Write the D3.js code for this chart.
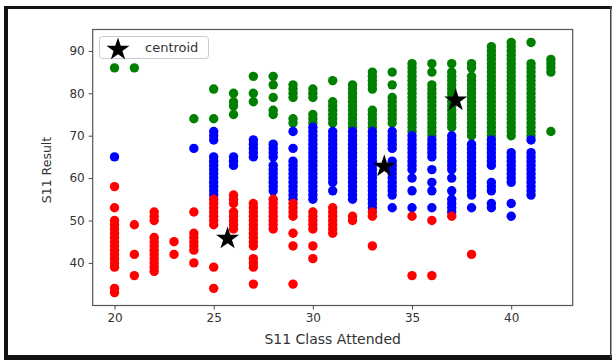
<!DOCTYPE html>
<html>

<head>
    <meta charset="utf-8">
    <script src="https://d3js.org/d3.v7.min.js"></script>
    <title>S11 kmeans</title>
    <style>
        body {
            margin: 0;
            background: white;
        }
        svg text {
            font-family: "DejaVu Sans", sans-serif;
            fill: #333;
        }
    </style>
</head>

<body>
    <svg id="chart"></svg>

    <script>
        // 每一列: [S11 Class Attended, [S11 Result ...]]
        var greenPts = [
            [20, [86]], [21, [86]], [24, [74]], [25, [81, 74]],
            [26, [80, 78, 77, 75]], [27, [84, 80, 78]], [28, [84, 82, 79, 76, 75]],
            [29, [82, 81, 80, 79, 74, 73]], [30, [81, 80, 79, 75, 74, 73]],
            [31, [83, 78, 77, 76, 75, 74, 73]],
            [32, [82, 81, 80, 79, 78, 77, 76, 75, 74, 73, 72]],
            [33, [85, 84, 83, 82, 81, 76, 75, 74, 73, 72]],
            [34, [85, 82, 79, 78, 77, 76, 75, 74, 73]],
            [35, [87, 86, 85, 84, 83, 82, 81, 80, 79, 78, 77, 76, 75, 74, 73, 72, 71]],
            [36, [87, 85, 82, 81, 80, 79, 78, 77, 76, 75, 74, 73, 72, 71, 70]],
            [37, [87, 85, 84, 83, 82, 81, 80, 79, 78, 77, 76, 75, 74, 73, 72]],
            [38, [87, 86, 84, 83, 82, 81, 80, 79, 78, 77, 76, 75, 74, 73, 72, 71, 70]],
            [39, [91, 90, 89, 88, 87, 86, 85, 84, 83, 82, 81, 80, 79, 78, 77, 76, 75, 74, 73, 72, 71, 70]],
            [40, [92, 91, 90, 89, 88, 87, 86, 85, 84, 83, 82, 81, 80, 79, 78, 77, 76, 75, 74, 73, 72, 71, 70]],
            [41, [92, 87, 86, 85, 84, 83, 82, 81, 80, 79, 78, 77, 76, 75, 74, 73, 72, 71, 70]],
            [42, [88, 87, 86, 85, 71]]
        ]
        var bluePts = [
            [20, [65]], [24, [67]],
            [25, [71, 70, 69, 65, 64, 63, 62, 61, 60, 59, 58, 57, 56]],
            [26, [65, 64, 63]], [27, [69, 68, 67, 66, 65]],
            [28, [68, 67, 66, 65, 63, 62, 61, 60, 59, 58, 57]],
            [29, [71, 67, 64, 63, 62, 61, 60, 59, 58, 57, 56, 55]],
            [30, [72, 71, 70, 69, 68, 67, 66, 65, 64, 63, 62, 61, 60, 59, 58, 57, 56, 55]],
            [31, [71, 70, 69, 68, 67, 66, 65, 64, 63, 62, 61, 60, 59, 57]],
            [32, [71, 70, 69, 68, 67, 66, 65, 64, 63, 62, 61, 60, 59, 58, 57, 56, 55]],
            [33, [71, 70, 69, 68, 67, 66, 65, 64, 63, 62, 61, 60, 59, 58, 57, 56, 55, 54, 53]],
            [34, [71, 70, 69, 68, 67, 64, 63, 62, 61, 60, 59, 58, 57, 56, 53]],
            [35, [70, 69, 68, 67, 66, 65, 64, 63, 62, 60, 57, 53]],
            [36, [69, 68, 67, 66, 65, 62, 59, 57, 53]],
            [37, [70, 69, 68, 67, 66, 65, 64, 63, 62, 60, 57, 55, 54, 53, 52]],
            [38, [68, 67, 66, 65, 64, 63, 62, 61, 60, 59, 58, 57, 56, 53]],
            [39, [69, 68, 67, 66, 65, 64, 63, 59, 58, 57, 54, 53]],
            [40, [66, 65, 64, 63, 62, 61, 60, 59, 54, 51]],
            [41, [69, 66, 65, 64, 63, 62, 61, 60, 59, 58, 57, 56]]
        ]
        var redPts = [
            [20, [58, 53, 50, 49, 48, 47, 46, 45, 44, 43, 42, 41, 40, 39, 34, 33]],
            [21, [49, 42, 37]],
            [22, [52, 51, 50, 46, 45, 44, 43, 42, 41, 40, 39, 38]],
            [23, [45, 42]],
            [24, [52, 47, 46, 45, 44, 43, 40]],
            [25, [55, 54, 53, 52, 51, 50, 49, 39, 34]],
            [26, [56, 55, 54, 52, 51, 50, 49, 48]],
            [27, [54, 53, 52, 51, 50, 49, 48, 47, 46, 45, 44, 41, 40, 39, 35]],
            [28, [55, 54, 53, 52, 51, 50, 49, 48]],
            [29, [54, 53, 52, 51, 47, 44, 35]],
            [30, [52, 51, 50, 49, 48, 44, 41]],
            [31, [53, 52, 51, 50, 49, 48, 47]],
            [32, [51, 50]], [33, [52, 51, 44]], [35, [51, 37]], [36, [50, 37]],
            [37, [51]], [38, [42]]
        ]
        var centroids = [[25.7, 46.1], [33.6, 63.1], [37.2, 78.7]]

        var xTicks = [20, 25, 30, 35, 40]
        var yTicks = [40, 50, 60, 70, 80, 90]

        var W = 616, H = 360
        // 注意: 不能用 top 做变量名 (window.top)
        var pL = 92.7, pR = 572.7, pT = 29.5, pB = 305.5

        var svg = d3.select('#chart').attr('width', W).attr('height', H)

        // 外面的黑框
        svg.append('rect').attr('x', 0).attr('y', 0).attr('width', W).attr('height', H).attr('fill', 'white')
        svg.append('rect').attr('x', 4).attr('y', 6).attr('width', 4).attr('height', 352).attr('fill', '#111')
        svg.append('rect').attr('x', 4).attr('y', 6).attr('width', 608).attr('height', 3).attr('fill', '#111')
        svg.append('rect').attr('x', 4).attr('y', 355).attr('width', 608).attr('height', 5).attr('fill', '#111')
        svg.append('rect').attr('x', 610).attr('y', 6).attr('width', 1.5).attr('height', 352).attr('fill', '#444')

        var x = d3.scaleLinear().domain([18.9, 43.1]).range([pL, pR])
        var y = d3.scaleLinear().domain([29.95, 95.05]).range([pB, pT])

        function flat(cols) {
            var out = []
            cols.forEach(function (c) {
                c[1].forEach(function (v) { out.push([c[0], v]) })
            })
            return out
        }

        var groups = [
            { pts: flat(greenPts), color: '#008000' },
            { pts: flat(bluePts), color: '#0000ff' },
            { pts: flat(redPts), color: '#ff0000' }
        ]

        var plot = svg.append('g')
        groups.forEach(function (g) {
            plot.append('g').selectAll('circle').data(g.pts).enter().append('circle')
                .attr('cx', function (d) { return x(d[0]) })
                .attr('cy', function (d) { return y(d[1]) })
                .attr('r', 4.7)
                .attr('fill', g.color)
        })

        var star = d3.symbol().type(d3.symbolStar).size(165)
        plot.append('g').selectAll('path').data(centroids).enter().append('path')
            .attr('d', star)
            .attr('transform', function (d) { return 'translate(' + x(d[0]) + ',' + (y(d[1]) + 1.5) + ')' })
            .attr('fill', 'black')

        // 坐标轴
        var xAxis = svg.append('g').attr('transform', 'translate(0,' + pB + ')')
            .call(d3.axisBottom(x).tickValues(xTicks).tickSize(4).tickPadding(4))
        var yAxis = svg.append('g').attr('transform', 'translate(' + pL + ',0)')
            .call(d3.axisLeft(y).tickValues(yTicks).tickSize(4).tickPadding(4))
        ;[xAxis, yAxis].forEach(function (a) {
            a.select('.domain').remove()
            a.selectAll('line').attr('stroke', '#444')
            a.selectAll('text').attr('font-size', 12).attr('fill', '#333')
                .attr('font-family', '"DejaVu Sans", sans-serif')
        })

        svg.append('rect').attr('x', pL).attr('y', pT)
            .attr('width', pR - pL).attr('height', pB - pT)
            .attr('fill', 'none').attr('stroke', '#555').attr('stroke-width', 1.2)

        svg.append('text').attr('x', (pL + pR) / 2).attr('y', 344)
            .attr('text-anchor', 'middle').attr('font-size', 14).text('S11 Class Attended')
        svg.append('text').attr('transform', 'translate(51,170) rotate(-90)')
            .attr('text-anchor', 'middle').attr('font-size', 12.5).text('S11 Result')

        // 图例
        var lg = svg.append('g')
        lg.append('rect').attr('x', 99.5).attr('y', 36.5).attr('width', 109).attr('height', 22).attr('rx', 3)
            .attr('fill', 'white').attr('fill-opacity', 0.8).attr('stroke', '#ccc')
        lg.append('path').attr('d', star).attr('transform', 'translate(118,49.5)').attr('fill', 'black')
        lg.append('text').attr('x', 145).attr('y', 52).attr('font-size', 13).text('centroid')
    </script>
</body>

</html>
